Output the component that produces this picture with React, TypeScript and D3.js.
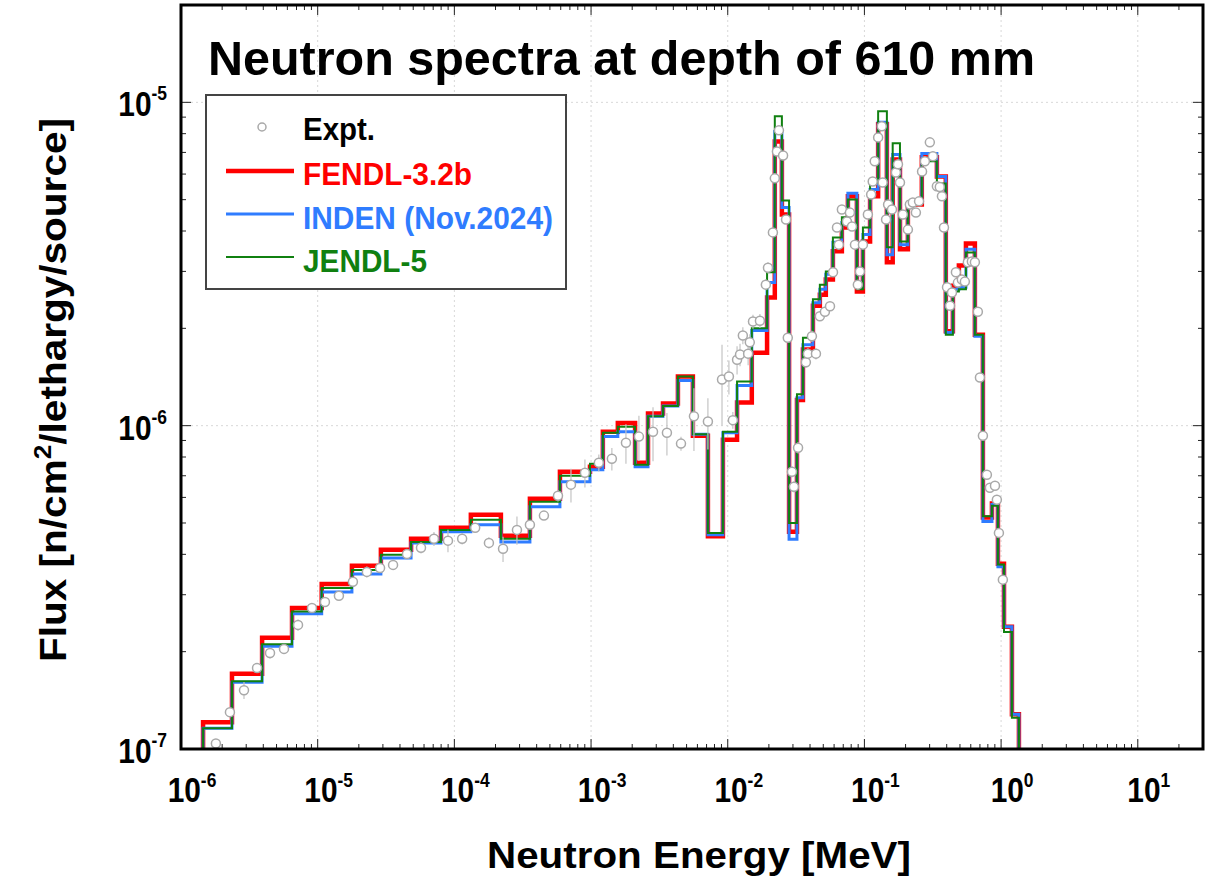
import React from "react";
import * as d3 from "d3";

const W = 1206;
const H = 879;
const PL = 181, PR = 1203, PT = 5, PB = 749;

// Energy-bin edges [MeV]
const binEdges = [
  1.45e-6, 2.36e-6, 3.92e-6, 6.49e-6, 1.07e-5, 1.78e-5, 2.90e-5, 4.82e-5, 7.98e-5, 1.32e-4,
  2.19e-4, 3.57e-4, 5.92e-4, 9.82e-4, 1.22e-3, 1.57e-3, 2.10e-3, 2.61e-3, 3.36e-3, 4.32e-3,
  5.56e-3, 7.16e-3, 9.22e-3, 1.17e-2, 1.50e-2, 1.94e-2, 2.21e-2, 2.49e-2, 2.81e-2, 3.21e-2,
  3.55e-2, 4.20e-2, 4.72e-2, 5.22e-2, 5.88e-2, 6.84e-2, 7.57e-2, 8.81e-2, 9.75e-2, 0.110,
  0.126, 0.146, 0.161, 0.182, 0.208, 0.263, 0.339, 0.394, 0.444, 0.491,
  0.553, 0.643, 0.736, 0.857, 0.948, 1.05, 1.20, 1.35,
];

const fendl = [
  1.21e-7, 1.71e-7, 2.21e-7, 2.73e-7, 3.24e-7, 3.69e-7, 4.13e-7, 4.47e-7, 4.83e-7, 5.30e-7,
  4.57e-7, 5.94e-7, 7.20e-7, 7.47e-7, 9.58e-7, 1.02e-6, 7.68e-7, 1.09e-6, 1.17e-6, 1.42e-6,
  9.30e-7, 4.55e-7, 9.05e-7, 1.18e-6, 1.68e-6, 2.49e-6, 7.57e-6, 4.50e-6, 4.70e-7, 1.20e-6,
  1.72e-6, 2.35e-6, 2.54e-6, 2.83e-6, 3.46e-6, 4.10e-6, 5.12e-6, 2.60e-6, 3.71e-6, 5.12e-6,
  8.55e-6, 3.20e-6, 6.66e-6, 3.51e-6, 4.83e-6, 6.76e-6, 5.90e-6, 1.96e-6, 2.71e-6, 3.13e-6,
  3.66e-6, 1.91e-6, 5.20e-7, 5.74e-7, 3.74e-7, 2.39e-7, 1.28e-7,
];

const inden = [
  1.16e-7, 1.61e-7, 2.08e-7, 2.62e-7, 3.06e-7, 3.48e-7, 3.90e-7, 4.34e-7, 4.70e-7, 4.94e-7,
  4.37e-7, 5.61e-7, 6.71e-7, 7.31e-7, 9.25e-7, 9.58e-7, 7.47e-7, 1.07e-6, 1.15e-6, 1.38e-6,
  9.40e-7, 4.60e-7, 9.51e-7, 1.33e-6, 1.97e-6, 2.77e-6, 8.13e-6, 4.73e-6, 4.45e-7, 1.22e-6,
  1.78e-6, 2.40e-6, 2.64e-6, 2.94e-6, 3.69e-6, 4.25e-6, 5.23e-6, 2.68e-6, 3.90e-6, 5.38e-6,
  8.67e-6, 3.38e-6, 6.90e-6, 3.63e-6, 4.90e-6, 6.95e-6, 5.90e-6, 1.94e-6, 2.64e-6, 2.68e-6,
  3.51e-6, 1.89e-6, 5.05e-7, 5.70e-7, 3.66e-7, 2.39e-7, 1.28e-7,
];

const jendl = [
  1.16e-7, 1.62e-7, 2.11e-7, 2.66e-7, 3.15e-7, 3.58e-7, 3.99e-7, 4.37e-7, 4.76e-7, 5.12e-7,
  4.47e-7, 5.82e-7, 7.00e-7, 7.63e-7, 9.51e-7, 9.93e-7, 7.57e-7, 1.07e-6, 1.15e-6, 1.42e-6,
  9.40e-7, 4.66e-7, 9.58e-7, 1.37e-6, 2.00e-6, 2.98e-6, 9.05e-6, 4.97e-6, 5.00e-7, 1.25e-6,
  1.87e-6, 2.46e-6, 2.73e-6, 3.00e-6, 3.82e-6, 4.41e-6, 5.01e-6, 2.64e-6, 4.10e-6, 5.65e-6,
  9.38e-6, 3.56e-6, 7.47e-6, 3.71e-6, 4.94e-6, 6.57e-6, 5.61e-6, 1.91e-6, 2.60e-6, 2.64e-6,
  3.43e-6, 1.91e-6, 5.25e-7, 5.65e-7, 3.72e-7, 2.30e-7, 1.25e-7,
];

// Experimental points
const exptEnergy = [
  1.80e-6, 2.28e-6, 2.89e-6, 3.60e-6, 4.48e-6, 5.67e-6, 7.18e-6, 9.08e-6, 1.13e-5, 1.43e-5,
  1.81e-5, 2.29e-5, 2.86e-5, 3.56e-5, 4.50e-5, 5.70e-5, 7.09e-5, 8.98e-5, 1.14e-4, 1.42e-4,
  1.79e-4, 2.27e-4, 2.87e-4, 3.57e-4, 4.52e-4, 5.73e-4, 7.13e-4, 9.02e-4, 1.14e-3, 1.42e-3,
  1.80e-3, 2.24e-3, 2.84e-3, 3.59e-3, 4.55e-3, 5.66e-3, 7.16e-3, 9.08e-3, 1.02e-2, 1.09e-2,
  1.17e-2, 1.23e-2, 1.29e-2, 1.41e-2, 1.45e-2, 1.53e-2, 1.72e-2, 1.90e-2, 1.97e-2, 2.14e-2,
  2.21e-2, 2.29e-2, 2.37e-2, 2.54e-2, 2.67e-2, 2.75e-2, 2.95e-2, 3.05e-2, 3.27e-2, 3.73e-2,
  3.86e-2, 4.13e-2, 4.42e-2, 4.72e-2, 5.14e-2, 5.60e-2, 5.89e-2, 6.30e-2, 6.50e-2, 6.84e-2,
  7.45e-2, 7.83e-2, 8.11e-2, 8.53e-2, 8.95e-2, 9.27e-2, 9.75e-2, 0.106, 0.112, 0.115,
  0.119, 0.126, 0.134, 0.136, 0.144, 0.149, 0.159, 0.170, 0.176, 0.182,
  0.191, 0.208, 0.215, 0.226, 0.238, 0.251, 0.264, 0.277, 0.301, 0.317,
  0.339, 0.356, 0.369, 0.382, 0.402, 0.423, 0.437, 0.467, 0.483, 0.516,
  0.543, 0.571, 0.611, 0.643, 0.676, 0.700, 0.736, 0.787, 0.828, 0.902,
  0.931, 0.964, 1.03,
];

const exptFlux = [
  1.04e-7, 1.30e-7, 1.52e-7, 1.78e-7, 1.98e-7, 2.04e-7, 2.42e-7, 2.73e-7, 2.85e-7, 2.98e-7,
  3.29e-7, 3.53e-7, 3.63e-7, 3.71e-7, 4.01e-7, 4.19e-7, 4.47e-7, 4.41e-7, 4.47e-7, 4.83e-7,
  4.34e-7, 4.16e-7, 4.76e-7, 4.94e-7, 5.27e-7, 6.07e-7, 6.57e-7, 7.15e-7, 7.68e-7, 7.90e-7,
  8.86e-7, 9.25e-7, 9.58e-7, 9.51e-7, 8.80e-7, 1.07e-6, 1.03e-6, 1.39e-6, 1.42e-6, 1.04e-6,
  1.60e-6, 1.66e-6, 1.90e-6, 1.67e-6, 1.81e-6, 2.10e-6, 2.11e-6, 2.73e-6, 3.08e-6, 3.96e-6,
  5.82e-6, 7.05e-6, 8.19e-6, 6.85e-6, 4.34e-6, 1.87e-6, 7.20e-7, 6.47e-7, 8.55e-7, 1.57e-6,
  1.67e-6, 1.89e-6, 1.67e-6, 2.18e-6, 2.25e-6, 2.34e-6, 2.98e-6, 4.10e-6, 3.63e-6, 4.66e-6,
  4.28e-6, 4.56e-6, 4.13e-6, 3.63e-6, 2.73e-6, 3.00e-6, 3.63e-6, 4.50e-6, 5.19e-6, 5.69e-6,
  6.57e-6, 7.79e-6, 8.43e-6, 5.65e-6, 4.34e-6, 4.83e-6, 4.66e-6, 6.07e-6, 6.43e-6, 5.65e-6,
  4.50e-6, 4.04e-6, 4.83e-6, 4.90e-6, 4.56e-6, 4.94e-6, 6.11e-6, 6.57e-6, 7.52e-6, 6.81e-6,
  5.50e-6, 5.47e-6, 5.12e-6, 4.10e-6, 2.68e-6, 2.35e-6, 2.58e-6, 2.98e-6, 2.77e-6, 2.83e-6,
  2.79e-6, 3.20e-6, 3.22e-6, 3.20e-6, 2.25e-6, 1.41e-6, 9.31e-7, 7.05e-7, 6.43e-7, 6.52e-7,
  5.90e-7, 4.66e-7, 3.34e-7,
];

// relative uncertainties
const exptErr = [
  0.03, 0.03, 0.06, 0.03, 0.04, 0.03, 0.04, 0.03, 0.03, 0.03,
  0.03, 0.04, 0.03, 0.03, 0.03, 0.04, 0.05, 0.08, 0.04, 0.03,
  0.04, 0.09, 0.10, 0.03, 0.03, 0.04, 0.12, 0.10, 0.06, 0.08,
  0.14, 0.16, 0.19, 0.15, 0.05, 0.22, 0.18, 0.28, 0.12, 0.06,
  0.10, 0.08, 0.06, 0.08, 0.06, 0.05, 0.05, 0.04, 0.04, 0.03,
  0.03, 0.03, 0.03, 0.03, 0.03, 0.03, 0.04, 0.04, 0.04, 0.04,
  0.04, 0.04, 0.04, 0.03, 0.03, 0.03, 0.03, 0.03, 0.03, 0.03,
  0.03, 0.03, 0.03, 0.03, 0.03, 0.03, 0.03, 0.03, 0.03, 0.03,
  0.03, 0.03, 0.03, 0.03, 0.03, 0.03, 0.03, 0.03, 0.03, 0.03,
  0.03, 0.03, 0.03, 0.03, 0.03, 0.03, 0.03, 0.03, 0.03, 0.03,
  0.03, 0.03, 0.03, 0.03, 0.03, 0.03, 0.03, 0.03, 0.03, 0.03,
  0.03, 0.03, 0.03, 0.03, 0.03, 0.03, 0.03, 0.03, 0.03, 0.03,
  0.03, 0.03, 0.03,
];

const xTickExps = [-6, -5, -4, -3, -2, -1, 0, 1];
const yTickExps = [-7, -6, -5];
const seriesLabels = ["FENDL-3.2b", "INDEN (Nov.2024)", "JENDL-5"];
const seriesColors = ["#ff0000", "#2f7cff", "#108010"];
const seriesWidths = [4.5, 3, 2];
const titleText = "Neutron spectra at depth of 610 mm";
const xTitle = "Neutron Energy [MeV]";

const FONT = "'Liberation Sans', Arial, Helvetica, sans-serif";

export default function App() {
  const x = d3.scaleLog().domain([1e-6, 30]).range([PL, PR]);
  const y = d3.scaleLog().domain([1e-7, 2e-5]).range([PB, PT]);

  const floor = 3e-8;
  const stepPath = (vals: number[]) => {
    const pts: [number, number][] = [];
    pts.push([binEdges[0], floor]);
    vals.forEach((v, i) => pts.push([binEdges[i], v]));
    pts.push([binEdges[vals.length], vals[vals.length - 1]]);
    pts.push([binEdges[vals.length], floor]);
    return d3
      .line<[number, number]>()
      .x((d) => x(d[0]))
      .y((d) => y(d[1]))
      .curve(d3.curveStepAfter)(pts) as string;
  };

  const series = [fendl, inden, jendl];

  const xMajor = xTickExps.map((e) => Math.pow(10, e));
  const xMinor: number[] = [];
  for (let e = -6; e <= 1; e++) {
    for (let k = 2; k <= 9; k++) {
      const v = k * Math.pow(10, e);
      if (v < 30) xMinor.push(v);
    }
  }
  const yMajor = yTickExps.map((e) => Math.pow(10, e));
  const yMinor: number[] = [];
  for (let e = -7; e <= -5; e++) {
    for (let k = 2; k <= 9; k++) {
      const v = k * Math.pow(10, e);
      if (v <= 2e-5) yMinor.push(v);
    }
  }

  const tickColor = "#222";

  return (
    <svg width={W} height={H} style={{ display: "block", position: "absolute", left: 0, top: 0 }} fontFamily={FONT}>
      <defs>
        <clipPath id="plotclip">
          <rect x={PL} y={PT} width={PR - PL} height={PB - PT} />
        </clipPath>
      </defs>
      <rect x={0} y={0} width={W} height={H} fill="#fff" />

      {/* grid */}
      {xMajor.slice(1).map((v, i) => (
        <line key={"gx" + i} x1={x(v)} x2={x(v)} y1={PT} y2={PB} stroke="#d8d8d8" strokeWidth={1} strokeDasharray="2,3" />
      ))}
      {[1e-6, 1e-5].map((v, i) => (
        <line key={"gy" + i} x1={PL} x2={PR} y1={y(v)} y2={y(v)} stroke="#d8d8d8" strokeWidth={1} strokeDasharray="2,3" />
      ))}

      {/* ticks */}
      {xMinor.map((v, i) => (
        <g key={"xm" + i}>
          <line x1={x(v)} x2={x(v)} y1={PB} y2={PB - 5} stroke={tickColor} strokeWidth={1} />
          <line x1={x(v)} x2={x(v)} y1={PT} y2={PT + 5} stroke={tickColor} strokeWidth={1} />
        </g>
      ))}
      {xMajor.map((v, i) => (
        <g key={"xM" + i}>
          <line x1={x(v)} x2={x(v)} y1={PB} y2={PB - 10} stroke={tickColor} strokeWidth={1} />
          <line x1={x(v)} x2={x(v)} y1={PT} y2={PT + 10} stroke={tickColor} strokeWidth={1} />
        </g>
      ))}
      {yMinor.map((v, i) => (
        <g key={"ym" + i}>
          <line x1={PL} x2={PL + 5} y1={y(v)} y2={y(v)} stroke={tickColor} strokeWidth={1} />
          <line x1={PR} x2={PR - 5} y1={y(v)} y2={y(v)} stroke={tickColor} strokeWidth={1} />
        </g>
      ))}
      {yMajor.map((v, i) => (
        <g key={"yM" + i}>
          <line x1={PL} x2={PL + 10} y1={y(v)} y2={y(v)} stroke={tickColor} strokeWidth={1} />
          <line x1={PR} x2={PR - 10} y1={y(v)} y2={y(v)} stroke={tickColor} strokeWidth={1} />
        </g>
      ))}

      {/* spectra */}
      <g clipPath="url(#plotclip)">
        {series.map((s, i) => (
          <path key={"s" + i} d={stepPath(s)} fill="none" stroke={seriesColors[i]} strokeWidth={seriesWidths[i]} strokeLinejoin="miter" />
        ))}
        {exptEnergy.map((e, i) => {
          const v = exptFlux[i];
          const err = exptErr[i];
          return (
            <line key={"eb" + i} x1={x(e)} x2={x(e)} y1={y(v * (1 + err))} y2={y(v * (1 - err))} stroke="#c4c4c4" strokeWidth={1.2} />
          );
        })}
        {exptEnergy.map((e, i) => (
          <circle key={"ep" + i} cx={x(e)} cy={y(exptFlux[i])} r={4.5} fill="#fff" stroke="#a9a9a9" strokeWidth={1.5} />
        ))}
      </g>

      {/* frame */}
      <rect x={PL} y={PT} width={PR - PL} height={PB - PT} fill="none" stroke="#000" strokeWidth={3} />

      {/* y tick labels */}
      {yTickExps.map((e) => (
        <g key={"yl" + e} transform={`translate(167,${y(Math.pow(10, e)) + 14}) scale(0.83,1)`}>
          <text textAnchor="end" fontWeight="bold" fontSize={36} fill="#000">
            10<tspan dy={-16} fontSize={21}>{String(e)}</tspan>
          </text>
        </g>
      ))}
      {/* x tick labels */}
      {xTickExps.map((e) => (
        <g key={"xl" + e} transform={`translate(${x(Math.pow(10, e)) + 11},802) scale(0.83,1)`}>
          <text textAnchor="middle" fontWeight="bold" fontSize={36} fill="#000">
            10<tspan dy={-15} fontSize={21}>{String(e)}</tspan>
          </text>
        </g>
      ))}

      {/* axis titles */}
      <text x={487} y={868} fontWeight="bold" fontSize={37} textLength={424} lengthAdjust="spacingAndGlyphs" fill="#000">
        {xTitle}
      </text>
      <text
        transform="translate(66,662) rotate(-90)"
        fontWeight="bold"
        fontSize={37}
        textLength={544}
        lengthAdjust="spacingAndGlyphs"
        fill="#000"
      >
        Flux [n/cm<tspan dy={-15} fontSize={24}>2</tspan>
        <tspan dy={15}>/lethargy/source]</tspan>
      </text>

      {/* title */}
      <text x={208} y={75} fontWeight="bold" fontSize={48} textLength={827} lengthAdjust="spacingAndGlyphs" fill="#000">
        {titleText}
      </text>

      {/* legend */}
      <rect x={206} y={95} width={360} height={194} fill="#fff" stroke="#444" strokeWidth={2} />
      <circle cx={262} cy={127} r={4} fill="#fff" stroke="#a9a9a9" strokeWidth={1.5} />
      <text x={303} y={140} fontWeight="bold" fontSize={31} textLength={72} lengthAdjust="spacingAndGlyphs" fill="#000">
        Expt.
      </text>
      {seriesLabels.map((lab, i) => {
        const ly = [171, 214, 257][i];
        const ty = [185, 229, 272][i];
        const tl = [169, 250, 124][i];
        return (
          <g key={"lg" + i}>
            <line x1={226} x2={294} y1={ly} y2={ly} stroke={seriesColors[i]} strokeWidth={seriesWidths[i]} />
            <text x={303} y={ty} fontWeight="bold" fontSize={31} textLength={tl} lengthAdjust="spacingAndGlyphs" fill={seriesColors[i]}>
              {lab}
            </text>
          </g>
        );
      })}
    </svg>
  );
}
